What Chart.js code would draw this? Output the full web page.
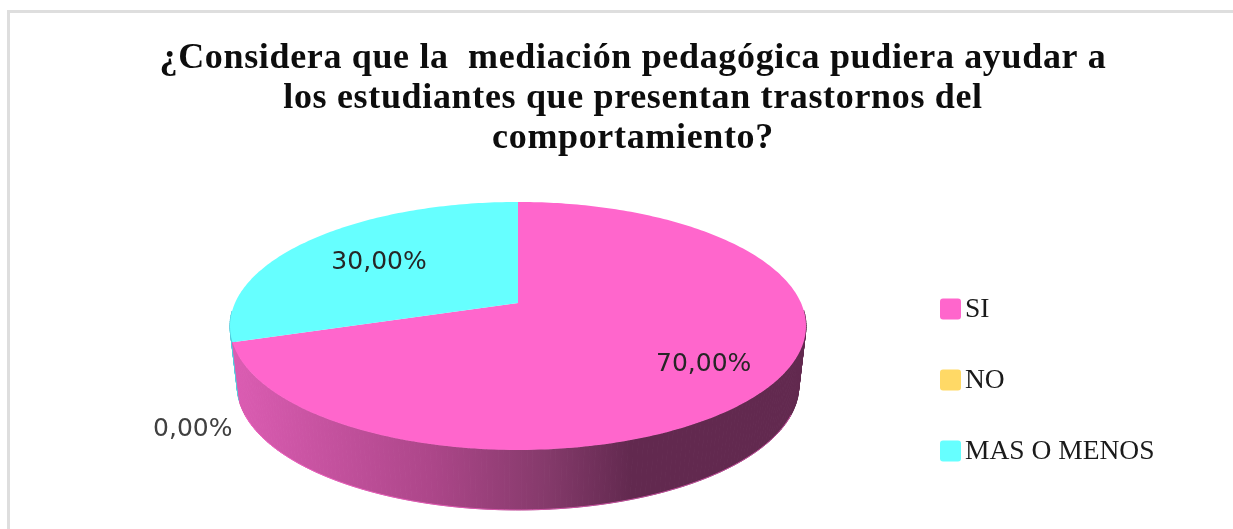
<!DOCTYPE html>
<html>
<head>
<meta charset="utf-8">
<title>Mediación pedagógica</title>
<script src="https://cdn.jsdelivr.net/npm/chart.js@4"></script>
<style>
  html, body { margin: 0; padding: 0; background: #fff; overflow: hidden; }
  #marco { position: absolute; left: 7px; top: 10px; width: 1226px; height: 519px; border-left: 3px solid #dedede; border-top: 3px solid #dedede; box-sizing: border-box; }
  #contenedor { position: absolute; left: 0; top: 0; width: 1233px; height: 529px; }
</style>
</head>
<body>
<div id="marco"></div>
<div id="contenedor"><canvas id="grafico"></canvas></div>
<script>
// datos
var categorias = ['SI', 'NO', 'MAS O MENOS'];
var valores = [70, 0, 30];
var tituloLineas = [
  '¿Considera que la  mediación pedagógica pudiera ayudar a',
  'los estudiantes que presentan trastornos del',
  'comportamiento?'
];
var colores = ['#FF66CC', '#FFD966', '#66FFFF'];

// vista 3D de la torta (no hay tipo 3D en Chart.js, se proyecta desde los angulos de cada arco)
var vista = { rx: 283, arriba: 101, abajo: 147, fondo: 60, escalaFondo: 0.975 };
var etiquetas = { radio: [0.745, 1.13, 0.65], bajada: [4, 82, 2] };
var leyenda = { x: 940, y: 309, paso: 71, caja: 21 };

function proyectar(arc, angulo, t, profundo) {
  var c = (vista.arriba - vista.abajo) / (vista.arriba + vista.abajo);
  var u = t * Math.cos(angulo), v = t * Math.sin(angulo);
  var w = 1 + c * v;
  var px = vista.rx * u / w;
  var py = vista.abajo * (1 + c) * v / w;
  if (profundo) {
    return { x: arc.x + px * vista.escalaFondo, y: arc.y + py + vista.fondo };
  }
  return { x: arc.x + px, y: arc.y + py };
}

function pasos(arc) {
  var lista = [];
  var n = Math.max(2, Math.ceil((arc.endAngle - arc.startAngle) * 60));
  for (var i = 0; i <= n; i++) {
    lista.push(arc.startAngle + (arc.endAngle - arc.startAngle) * i / n);
  }
  return lista;
}

var torta3D = {
  id: 'torta3D',
  afterLayout: function (chart) {
    // el titulo va centrado sobre el recuadro, no sobre la torta
    chart.titleBlock.left += 115;
    chart.titleBlock.right += 115;
  },
  beforeDraw: function (chart) {
    chart.ctx.letterSpacing = '0.66px';
  },
  beforeDatasetsDraw: function (chart) {
    var ctx = chart.ctx;
    var arcos = chart.getDatasetMeta(0).data;
    var cx = arcos[0].x;
    ctx.letterSpacing = '0px';

    var sombra = ctx.createLinearGradient(cx - vista.rx, 0, cx + vista.rx, 0);
    sombra.addColorStop(0, '#DB5CB2');
    sombra.addColorStop(0.35, '#AC4689');
    sombra.addColorStop(0.55, '#853A6B');
    sombra.addColorStop(0.7, '#62294F');
    sombra.addColorStop(1, '#62294F');
    var paredes = [sombra, '#B89A40', '#52CCDD'];

    // paredes, de atras hacia adelante (solo se ve la parte de adelante)
    for (var i = arcos.length - 1; i >= 0; i--) {
      if (valores[i] === 0) continue;
      var arc = arcos[i];
      var angulos = pasos(arc).filter(function (a) { return Math.sin(a) > 0.05; });
      ctx.fillStyle = paredes[i];
      ctx.strokeStyle = paredes[i];
      ctx.lineWidth = 1;
      for (var k = 0; k < angulos.length - 1; k++) {
        var a1 = proyectar(arc, angulos[k], 1, false), a2 = proyectar(arc, angulos[k + 1], 1, false);
        var b1 = proyectar(arc, angulos[k], 1, true), b2 = proyectar(arc, angulos[k + 1], 1, true);
        ctx.beginPath();
        ctx.moveTo(a1.x, a1.y);
        ctx.lineTo(a2.x, a2.y);
        ctx.lineTo(b2.x, b2.y);
        ctx.lineTo(b1.x, b1.y);
        ctx.closePath();
        ctx.fill();
        ctx.stroke();
      }
      // borde claro de abajo
      ctx.beginPath();
      angulos.filter(function (a) { return Math.sin(a) > 0.4; }).forEach(function (a, n) {
        var p = proyectar(arc, a, 1, true);
        if (n === 0) ctx.moveTo(p.x, p.y); else ctx.lineTo(p.x, p.y);
      });
      ctx.strokeStyle = colores[i];
      ctx.globalAlpha = 0.6;
      ctx.stroke();
      ctx.globalAlpha = 1;
    }

    // caras de arriba
    arcos.forEach(function (arc, i) {
      if (valores[i] === 0) return;
      ctx.beginPath();
      ctx.moveTo(arc.x, arc.y);
      pasos(arc).forEach(function (a) {
        var p = proyectar(arc, a, 1, false);
        ctx.lineTo(p.x, p.y);
      });
      ctx.closePath();
      ctx.fillStyle = colores[i];
      ctx.fill();
    });

    // etiquetas
    ctx.font = '25px "DejaVu Sans"';
    ctx.textAlign = 'center';
    ctx.textBaseline = 'middle';
    arcos.forEach(function (arc, i) {
      var medio = (arc.startAngle + arc.endAngle) / 2;
      var p = proyectar(arc, medio, etiquetas.radio[i], false);
      ctx.fillStyle = valores[i] === 0 ? '#404040' : '#262626';
      ctx.fillText(valores[i].toFixed(2).replace('.', ',') + '%', p.x, p.y + etiquetas.bajada[i]);
    });

    // leyenda
    ctx.textAlign = 'left';
    ctx.font = '27.5px "Liberation Serif"';
    categorias.forEach(function (nombre, i) {
      var y = leyenda.y + leyenda.paso * i;
      ctx.fillStyle = colores[i];
      ctx.beginPath();
      ctx.roundRect(leyenda.x, y - leyenda.caja / 2, leyenda.caja, leyenda.caja, 3);
      ctx.fill();
      ctx.fillStyle = '#1a1a1a';
      ctx.fillText(nombre, leyenda.x + leyenda.caja + 4, y + 1);
    });
    return false;
  }
};

new Chart(document.getElementById('grafico'), {
  type: 'pie',
  data: {
    labels: categorias,
    datasets: [{ data: valores, backgroundColor: colores, borderWidth: 0 }]
  },
  plugins: [torta3D],
  options: {
    responsive: true,
    maintainAspectRatio: false,
    animation: false,
    layout: { padding: { left: 0, right: 197, top: 0, bottom: 88 } },
    plugins: {
      legend: { display: false },
      tooltip: { enabled: false },
      title: {
        display: true,
        text: tituloLineas,
        color: '#0d0d0d',
        font: { family: '"Liberation Serif"', size: 36, weight: 'bold', lineHeight: 1.11 },
        padding: { top: 39, bottom: 6 }
      }
    }
  }
});
</script>
</body>
</html>
